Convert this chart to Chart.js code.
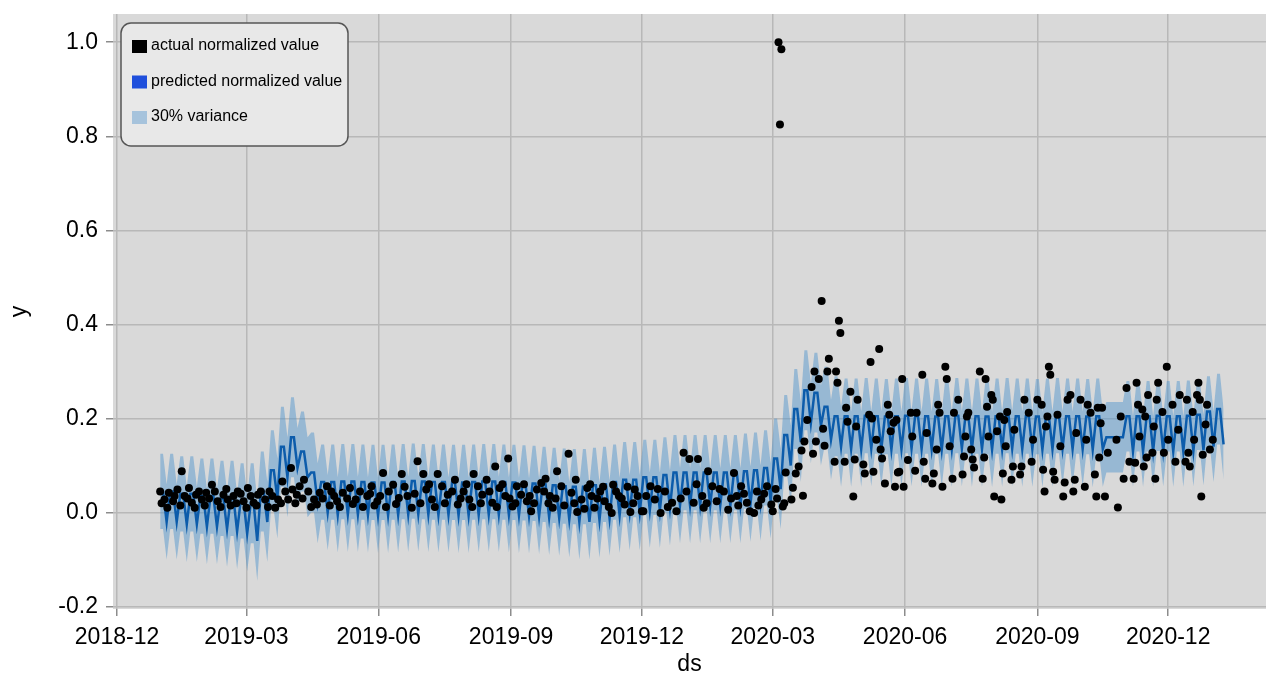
<!DOCTYPE html>
<html>
<head>
<meta charset="utf-8">
<script src="https://cdn.jsdelivr.net/npm/chart.js@4.4.0/dist/chart.umd.min.js"></script>
<style>
  html, body { margin: 0; padding: 0; background: #fff; overflow: hidden; }
  canvas { display: block; }
</style>
</head>
<body>
<canvas id="forecast" width="1266" height="676"></canvas>
<script>
// x values are days counted from 2018-12-01
const tickDays = [0, 90, 182, 274, 365, 456, 548, 640, 731];
const tickLabels = ['2018-12', '2019-03', '2019-06', '2019-09', '2019-12', '2020-03', '2020-06', '2020-09', '2020-12'];
const yTicks = [-0.2, 0, 0.2, 0.4, 0.6, 0.8, 1.0];

// forecast, one entry per week starting 2018-12-31 (day 30): weekday level, weekly dip, half band width
const weekStart = 30;
const predHi = [
  0.045, 0.045, 0.04, 0.04, 0.035, 0.035, 0.03, 0.03, 0.025, 0.02,
  0.045, 0.09, 0.14, 0.16, 0.13, 0.085, 0.065, 0.065, 0.066, 0.066,
  0.065, 0.064, 0.064, 0.065, 0.066, 0.067, 0.066, 0.065, 0.065, 0.064,
  0.064, 0.065, 0.066, 0.066, 0.065, 0.064, 0.063, 0.062, 0.06, 0.058,
  0.056, 0.055, 0.055, 0.058, 0.06, 0.065, 0.07, 0.07, 0.075, 0.075,
  0.08, 0.085, 0.085, 0.085, 0.085, 0.085, 0.085, 0.085, 0.088, 0.09,
  0.095, 0.115, 0.165, 0.22, 0.26, 0.255, 0.225, 0.205, 0.205, 0.205,
  0.206, 0.205, 0.204, 0.205, 0.206, 0.205, 0.205, 0.204, 0.205, 0.206,
  0.205, 0.205, 0.204, 0.205, 0.206, 0.205, 0.205, 0.204, 0.205, 0.206,
  0.205, 0.205, 0.204, 0.205, 0.16, 0.16, 0.205, 0.205, 0.205, 0.206,
  0.205, 0.205, 0.206, 0.208, 0.215, 0.22
];
const predLo = [
  -0.02, -0.02, -0.025, -0.025, -0.03, -0.03, -0.035, -0.04, -0.045, -0.06,
  -0.02, 0.03, 0.075, 0.095, 0.075, 0.02, 0.0, -0.005, -0.004, -0.004,
  -0.005, -0.006, -0.006, -0.005, -0.004, -0.003, -0.004, -0.005, -0.005, -0.006,
  -0.006, -0.005, -0.004, -0.004, -0.005, -0.006, -0.007, -0.008, -0.01, -0.012,
  -0.015, -0.02, -0.02, -0.016, -0.012, -0.006, 0.0, 0.0, 0.005, 0.005,
  0.01, 0.015, 0.015, 0.015, 0.015, 0.015, 0.015, 0.015, 0.018, 0.02,
  0.025, 0.05, 0.1, 0.15, 0.19, 0.185, 0.155, 0.14, 0.135, 0.135,
  0.136, 0.135, 0.134, 0.135, 0.136, 0.135, 0.135, 0.134, 0.135, 0.136,
  0.135, 0.135, 0.134, 0.135, 0.136, 0.135, 0.135, 0.134, 0.135, 0.136,
  0.135, 0.135, 0.134, 0.135, 0.16, 0.16, 0.13, 0.13, 0.13, 0.131,
  0.13, 0.13, 0.131, 0.133, 0.14, 0.145
];
const bandHalf = [
  0.08, 0.08, 0.08, 0.08, 0.08, 0.08, 0.08, 0.08, 0.08, 0.085,
  0.085, 0.085, 0.085, 0.085, 0.085, 0.085, 0.08, 0.08, 0.08, 0.08,
  0.08, 0.08, 0.08, 0.08, 0.08, 0.08, 0.08, 0.08, 0.08, 0.08,
  0.08, 0.08, 0.08, 0.08, 0.08, 0.08, 0.08, 0.08, 0.08, 0.08,
  0.08, 0.08, 0.08, 0.08, 0.08, 0.08, 0.08, 0.08, 0.08, 0.08,
  0.08, 0.08, 0.08, 0.08, 0.08, 0.08, 0.08, 0.08, 0.08, 0.08,
  0.08, 0.085, 0.085, 0.085, 0.085, 0.085, 0.085, 0.085, 0.08, 0.08,
  0.08, 0.08, 0.08, 0.08, 0.08, 0.08, 0.08, 0.08, 0.08, 0.08,
  0.08, 0.08, 0.08, 0.08, 0.08, 0.08, 0.08, 0.08, 0.08, 0.08,
  0.08, 0.08, 0.08, 0.08, 0.075, 0.075, 0.075, 0.075, 0.075, 0.075,
  0.075, 0.075, 0.075, 0.075, 0.075, 0.075
];

// observed values: day, normalized value
const actualDay = [
  30, 31, 33, 35, 36, 39, 40, 42, 44, 45, 47, 49, 50, 52, 54, 55, 57, 59, 61, 62,
  64, 66, 68, 70, 72, 74, 76, 77, 79, 81, 83, 84, 86, 88, 90, 91, 93, 95, 97, 98,
  100, 103, 105, 106, 108, 110, 112, 114, 115, 117, 119, 121, 122, 124, 125, 127, 129, 130, 133, 135,
  137, 139, 141, 143, 146, 148, 149, 151, 153, 155, 157, 160, 162, 164, 166, 169, 171, 174, 176, 177,
  179, 181, 183, 185, 187, 189, 192, 194, 196,
  198, 200, 202, 205, 207, 209, 211, 213, 215, 217, 219, 221, 223, 226, 228, 230, 233, 235, 237, 239,
  241, 243, 245, 247, 248, 251, 253, 254, 257, 259, 261, 263, 264, 266, 268, 270, 272, 273, 275, 277,
  278, 281, 283, 285, 287, 288, 290, 292, 295, 297, 298, 300, 301, 303, 305, 306, 309, 311, 314, 316,
  318, 319, 320, 323, 325, 327, 329, 330, 332, 334, 336, 338, 339, 342, 344, 345, 347, 349, 351, 353,
  355, 357, 359, 360, 362, 365,
  366, 368, 371, 374, 376, 378, 381, 383, 386, 389, 392, 394, 396, 398, 401, 403, 404, 407, 408, 410,
  411, 414, 417, 419, 422, 425, 427, 429, 431, 432, 434, 436, 438, 440, 443, 445, 446, 448, 450, 452,
  455, 456, 458, 459, 460, 461, 462, 463, 464, 465, 469, 470, 472, 474, 476, 477, 478, 480,
  483, 484, 485, 486, 488, 490, 491, 492, 494, 495, 499, 500, 501, 502, 503, 506, 507, 508, 510, 512,
  513, 514, 515, 519, 520, 523, 524, 525, 526, 528, 530, 531, 532, 534, 536, 537, 538, 540, 541, 542,
  543, 544, 546, 547, 550, 552, 553, 555, 556, 560, 561, 562, 563, 567, 568, 570, 571, 572, 574, 576,
  577, 579, 581, 582, 585, 588, 589, 590, 591, 592, 594, 595, 596, 600, 602, 603, 604, 605, 606, 608,
  609, 610, 612, 614, 615, 616, 617, 618,
  619, 622, 623, 624, 628, 629, 631, 634, 636, 637, 640, 643, 644, 645, 646, 647, 648, 649, 651, 652,
  654, 656, 658, 659, 661, 663, 665, 666, 667, 670, 673, 674, 675, 677, 680, 681, 682, 683, 684, 685,
  687, 689, 695, 696, 698, 700, 702, 704, 707, 708, 709, 710, 711, 713, 714, 715, 716, 717, 720, 721,
  722, 723, 724, 727, 728, 730, 731, 734, 736, 738, 739, 743, 744, 745, 746, 748, 749, 751, 752, 753,
  754, 755, 757, 758, 760, 762
];
const actualValue = [
  0.045, 0.02, 0.028, 0.01, 0.042, 0.024, 0.035, 0.049, 0.015, 0.088, 0.035, 0.03, 0.052, 0.021, 0.01, 0.038, 0.045, 0.028, 0.015, 0.042,
  0.03, 0.059, 0.045, 0.024, 0.012, 0.038, 0.05, 0.028, 0.015, 0.035, 0.02, 0.045, 0.04, 0.024, 0.01, 0.052, 0.035, 0.021, 0.015, 0.038,
  0.045, 0.028, 0.012, 0.045, 0.035, 0.01, 0.028, 0.02, 0.066, 0.045, 0.028, 0.095, 0.049, 0.02, 0.038, 0.056, 0.03, 0.07, 0.045, 0.012,
  0.028, 0.017, 0.042, 0.03, 0.056, 0.015, 0.045, 0.035, 0.024, 0.012, 0.042, 0.03, 0.052, 0.018, 0.028, 0.045, 0.012, 0.035, 0.04, 0.056,
  0.015, 0.024, 0.035, 0.084, 0.012, 0.045, 0.059, 0.018, 0.031,
  0.082, 0.055, 0.035, 0.01, 0.04, 0.109, 0.02, 0.082, 0.049, 0.06, 0.028, 0.012, 0.082, 0.056, 0.02, 0.038, 0.045, 0.07, 0.017, 0.03,
  0.045, 0.06, 0.028, 0.012, 0.082, 0.056, 0.02, 0.038, 0.07, 0.045, 0.021, 0.098, 0.012, 0.052, 0.06, 0.035, 0.115, 0.03, 0.013, 0.02,
  0.056, 0.038, 0.06, 0.024, 0.035, 0.003, 0.02, 0.049, 0.063, 0.045, 0.072, 0.02, 0.035, 0.01, 0.03, 0.088, 0.056, 0.015, 0.125, 0.042,
  0.02, 0.07, 0.001, 0.028, 0.008, 0.052, 0.06, 0.035, 0.01, 0.03, 0.045, 0.055, 0.024, 0.012, -0.001, 0.059, 0.045, 0.035, 0.03, 0.017,
  0.055, 0.001, 0.02, 0.049, 0.035, 0.003,
  0.003, 0.035, 0.056, 0.028, 0.05, -0.001, 0.045, 0.012, 0.021, 0.003, 0.03, 0.127, 0.045, 0.114, 0.021, 0.06, 0.114, 0.035, 0.01, 0.02,
  0.088, 0.056, 0.024, 0.05, 0.045, 0.006, 0.03, 0.084, 0.035, 0.015, 0.056, 0.04, 0.021, 0.003, -0.001, 0.045, 0.015, 0.028, 0.04, 0.056,
  0.017, 0.003, 0.05, 0.03, 1.0, 0.825, 0.985, 0.013, 0.02, 0.085, 0.028, 0.053, 0.083, 0.098, 0.132, 0.036, 0.151, 0.197,
  0.267, 0.125, 0.3, 0.151, 0.284, 0.45, 0.178, 0.142, 0.3, 0.327, 0.108, 0.3, 0.276, 0.408, 0.382, 0.108, 0.223, 0.193, 0.257, 0.034,
  0.113, 0.183, 0.24, 0.102, 0.083, 0.208, 0.32, 0.2, 0.087, 0.155, 0.348, 0.134, 0.115, 0.062, 0.229, 0.208, 0.173, 0.191, 0.055, 0.197,
  0.085, 0.087, 0.284, 0.055, 0.112, 0.212, 0.162, 0.089, 0.212, 0.293, 0.108, 0.072, 0.169, 0.062, 0.083, 0.134, 0.229, 0.212, 0.055, 0.31,
  0.284, 0.141, 0.072, 0.212, 0.24, 0.081, 0.119, 0.162, 0.204, 0.212, 0.134, 0.113, 0.096, 0.3, 0.072, 0.117, 0.284, 0.225, 0.162, 0.25,
  0.24, 0.034, 0.173, 0.204, 0.028, 0.083, 0.197, 0.141,
  0.214, 0.07, 0.098, 0.176, 0.081, 0.098, 0.24, 0.212, 0.108, 0.155, 0.24, 0.229, 0.091, 0.045, 0.183, 0.204, 0.31, 0.293, 0.087, 0.07,
  0.208, 0.141, 0.034, 0.064, 0.24, 0.25, 0.045, 0.07, 0.169, 0.24, 0.055, 0.155, 0.229, 0.212, 0.081, 0.034, 0.223, 0.117, 0.19, 0.223,
  0.034, 0.127, 0.155, 0.011, 0.204, 0.072, 0.265, 0.108, 0.072, 0.106, 0.276, 0.229, 0.162, 0.219, 0.098, 0.204, 0.117, 0.25, 0.127, 0.183,
  0.072, 0.24, 0.276, 0.214, 0.127, 0.31, 0.155, 0.229, 0.108, 0.176, 0.25, 0.108, 0.24, 0.127, 0.098, 0.214, 0.155, 0.25, 0.276, 0.24,
  0.034, 0.123, 0.187, 0.229, 0.134, 0.155
];

const legendItems = ['actual normalized value', 'predicted normalized value', '30% variance'];
const legendColors = ['#000000', '#1f4fdc', '#a6c3dc'];

// build line / band points from the weekly arrays (weekday level, weekend dip)
const predLine = [], bandUpper = [], bandLower = [];
predHi.forEach((hi, i) => {
  const d = weekStart + 7 * i;
  const lo = predLo[i], w = bandHalf[i];
  predLine.push({x: d, y: hi}, {x: d + 2, y: hi}, {x: d + 4.5, y: lo});
  bandUpper.push({x: d, y: hi + w}, {x: d + 2, y: hi + w}, {x: d + 4.5, y: lo + w});
  bandLower.push({x: d, y: hi - w}, {x: d + 2, y: hi - w}, {x: d + 4.5, y: lo - w});
});
const actualPts = actualDay.map((d, i) => ({x: d, y: actualValue[i]}));

const FONT = "'Liberation Sans', Arial, sans-serif";

const plotBg = {
  id: 'plotBg',
  beforeDraw(chart) {
    const {ctx, chartArea: a} = chart;
    ctx.save();
    ctx.fillStyle = '#d9d9d9';
    ctx.fillRect(a.left, a.top, a.right - a.left, a.bottom - a.top);
    ctx.restore();
  }
};

const legendBox = {
  id: 'legendBox',
  afterDraw(chart) {
    const {ctx, chartArea: a} = chart;
    const x = a.left + 8, y = a.top + 9, w = 227, h = 123;
    ctx.save();
    ctx.beginPath();
    ctx.roundRect(x, y, w, h, 10);
    ctx.fillStyle = '#e8e8e8';
    ctx.fill();
    ctx.lineWidth = 1.5;
    ctx.strokeStyle = '#555';
    ctx.stroke();
    ctx.font = '16px ' + FONT;
    ctx.textBaseline = 'middle';
    legendItems.forEach((t, i) => {
      const cy = y + 23 + i * 35.5;
      ctx.fillStyle = legendColors[i];
      ctx.fillRect(x + 11, cy - 6, 15, 13);
      ctx.fillStyle = '#000';
      ctx.fillText(t, x + 30, cy);
    });
    ctx.restore();
  }
};

new Chart(document.getElementById('forecast'), {
  type: 'scatter',
  data: {
    datasets: [
      {
        label: 'actual normalized value',
        data: actualPts,
        backgroundColor: '#000',
        borderWidth: 0,
        pointRadius: 4
      },
      {
        label: 'predicted normalized value',
        data: predLine,
        showLine: true,
        borderColor: '#0c5cab',
        borderWidth: 2.5,
        pointRadius: 0,
        tension: 0
      },
      {
        label: 'lower',
        data: bandLower,
        showLine: true,
        borderWidth: 0,
        borderColor: 'rgba(0,0,0,0)',
        pointRadius: 0,
        fill: false
      },
      {
        label: '30% variance',
        data: bandUpper,
        showLine: true,
        borderWidth: 0,
        borderColor: 'rgba(0,0,0,0)',
        backgroundColor: 'rgba(70,145,205,0.45)',
        pointRadius: 0,
        fill: '-1'
      }
    ]
  },
  options: {
    responsive: false,
    animation: false,
    layout: { autoPadding: false, padding: { top: 14, right: 0, left: 0, bottom: 0 } },
    plugins: {
      legend: { display: false },
      tooltip: { enabled: false }
    },
    scales: {
      x: {
        type: 'linear',
        min: -2.8,
        max: 799,
        afterBuildTicks: s => { s.ticks = tickDays.map(v => ({value: v})); },
        afterFit: s => { s.height = 67; s.paddingLeft = 0; s.paddingRight = 0; },
        border: { display: false },
        grid: { color: '#b8b8b8', lineWidth: 1.5, tickLength: 7, tickColor: '#8c8c8c', tickWidth: 1.5 },
        ticks: {
          autoSkip: false, maxRotation: 0, padding: 8, color: '#000',
          font: { family: FONT, size: 23 },
          callback: v => tickLabels[tickDays.indexOf(v)]
        },
        title: { display: true, text: 'ds', color: '#000', font: { family: FONT, size: 23, lineHeight: 1.0 }, padding: 0 }
      },
      y: {
        min: -0.205,
        max: 1.06,
        afterBuildTicks: s => { s.ticks = yTicks.map(v => ({value: v})); },
        afterFit: s => { s.width = 113; s.paddingTop = 0; s.paddingBottom = 0; },
        border: { display: false },
        grid: { color: '#b8b8b8', lineWidth: 1.5, tickLength: 7, tickColor: '#8c8c8c', tickWidth: 1.5 },
        ticks: {
          padding: 8, color: '#000',
          font: { family: FONT, size: 23 },
          callback: v => v.toFixed(1)
        },
        title: { display: true, text: 'y', color: '#000', font: { family: FONT, size: 23 }, padding: { top: 6, bottom: 0 } }
      }
    }
  },
  plugins: [plotBg, legendBox]
});
</script>
</body>
</html>
